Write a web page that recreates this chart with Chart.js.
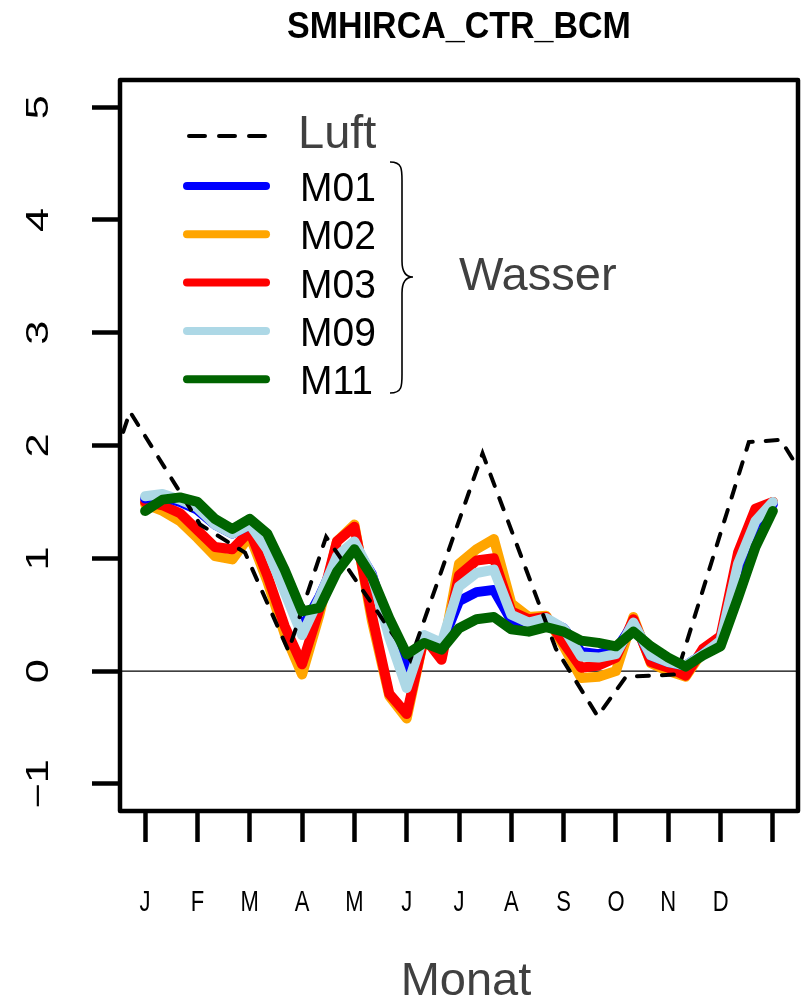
<!DOCTYPE html>
<html>
<head>
<meta charset="utf-8">
<script src="https://cdn.jsdelivr.net/npm/chart.js@4.4.1/dist/chart.umd.min.js"></script>
<style>
  html, body { margin: 0; padding: 0; background: #fff; }
  #wrap { width: 807px; height: 1000px; }
</style>
</head>
<body>
<div id="wrap"><canvas id="c" width="807" height="1000"></canvas></div>
<script>
// Monthly axis: 13 tick positions, 12 labelled months
const monthTicks = [1, 2, 3, 4, 5, 6, 7, 8, 9, 10, 11, 12, 13];
const monthLabels = ['J', 'F', 'M', 'A', 'M', 'J', 'J', 'A', 'S', 'O', 'N', 'D'];
const yTicks = [-1, 0, 1, 2, 3, 4, 5];

// Water series are given per decade (10-day step): t = 1 + k/3, k = 0..36
const dekadeT = Array.from({ length: 37 }, (_, k) => 1 + k / 3);

const m01 = [1.53, 1.55, 1.50, 1.43, 1.30, 1.22, 1.30, 1.10, 0.72, 0.38, 0.66, 1.00, 1.12,
             0.86, 0.35, 0.00, 0.30, 0.24, 0.62, 0.70, 0.72, 0.45, 0.42, 0.45, 0.38, 0.17,
             0.15, 0.19, 0.42, 0.14, 0.08, 0.05, 0.15, 0.26, 0.90, 1.30, 1.48];
const m02 = [1.48, 1.42, 1.33, 1.18, 1.02, 0.99, 1.20, 0.80, 0.33, -0.03, 0.50, 1.15, 1.30,
             0.45, -0.22, -0.42, 0.30, 0.12, 0.95, 1.08, 1.17, 0.60, 0.48, 0.49, 0.22, -0.06,
             -0.05, 0.00, 0.48, 0.07, 0.00, -0.05, 0.18, 0.28, 0.95, 1.38, 1.50];
const m03 = [1.50, 1.47, 1.40, 1.25, 1.10, 1.08, 1.24, 0.85, 0.40, 0.06, 0.55, 1.15, 1.28,
             0.50, -0.20, -0.38, 0.30, 0.10, 0.85, 0.98, 1.00, 0.53, 0.46, 0.48, 0.25, 0.03,
             0.05, 0.12, 0.46, 0.08, 0.03, -0.04, 0.20, 0.31, 1.05, 1.44, 1.50];
const m09 = [1.55, 1.57, 1.52, 1.45, 1.30, 1.22, 1.30, 1.08, 0.70, 0.32, 0.65, 1.02, 1.15,
             0.85, 0.30, -0.15, 0.32, 0.25, 0.75, 0.87, 0.90, 0.50, 0.43, 0.47, 0.38, 0.13,
             0.12, 0.15, 0.43, 0.14, 0.08, 0.05, 0.15, 0.27, 0.95, 1.33, 1.50];
const m11 = [1.42, 1.52, 1.54, 1.50, 1.35, 1.26, 1.35, 1.22, 0.90, 0.53, 0.56, 0.88, 1.08,
             0.84, 0.47, 0.15, 0.25, 0.19, 0.38, 0.46, 0.48, 0.37, 0.35, 0.39, 0.35, 0.27,
             0.25, 0.22, 0.35, 0.22, 0.12, 0.04, 0.14, 0.22, 0.65, 1.10, 1.42];

// Air temperature curve with its own time positions (runs past both plot edges)
const luftT = [0.43, 0.71, 2.05, 2.91, 3.74, 4.46, 6.07, 7.45, 8.85, 9.65, 10.19, 11.16, 12.54, 13.15, 13.82];
const luftV = [1.91, 2.30, 1.30, 1.05, 0.18, 1.19, 0.10, 1.93, 0.20, -0.40, -0.05, -0.03, 2.03, 2.05, 1.55];

const zeroT = [0.52, 13.48];
const zeroV = [0, 0];

const seriesNames = ['M01', 'M02', 'M03', 'M09', 'M11'];
const seriesColors = ['#0000ff', '#ffa500', '#ff0000', '#add8e6', '#006400'];
const seriesValues = [m01, m02, m03, m09, m11];
// stacking: M11 on top, then the dashed air line, M09, M01, M03, M02
const seriesOrder = [3, 5, 4, 2, 0];

const FONT = '"Liberation Sans", Arial, Helvetica, sans-serif';
const GREY = '#404040';

function pts(ts, vs) { return ts.map((t, i) => ({ x: t, y: vs[i] })); }

const datasets = seriesNames.map((name, i) => ({
  label: name,
  data: pts(dekadeT, seriesValues[i]),
  borderColor: seriesColors[i],
  borderWidth: 10,
  pointRadius: 0,
  tension: 0,
  borderCapStyle: 'round',
  borderJoinStyle: 'round',
  order: seriesOrder[i],
  clip: 0
}));
datasets.push({
  label: 'Luft',
  data: pts(luftT, luftV),
  borderColor: '#000',
  borderWidth: 4,
  borderDash: [12, 13],
  borderCapStyle: 'round',
  pointRadius: 0,
  tension: 0,
  order: 1,
  clip: 0
});
datasets.push({
  label: 'zero',
  data: pts(zeroT, zeroV),
  borderColor: '#000',
  borderWidth: 1.3,
  pointRadius: 0,
  order: 10,
  clip: 0
});

// text helper: draws with an optional rotation and stretch
function text(ctx, s, x, y, opt) {
  ctx.save();
  ctx.translate(x, y);
  if (opt.rot) ctx.rotate(opt.rot);
  ctx.scale(opt.sx || 1, opt.sy || 1);
  ctx.font = opt.font;
  ctx.fillStyle = opt.color || '#000';
  ctx.textAlign = opt.align || 'center';
  ctx.textBaseline = opt.base || 'alphabetic';
  ctx.fillText(s, 0, 0);
  ctx.restore();
}

const decor = {
  id: 'decor',
  beforeDraw(chart) {
    const { ctx } = chart;
    ctx.save();
    ctx.fillStyle = '#fff';
    ctx.fillRect(0, 0, chart.width, chart.height);
    ctx.restore();
  },
  afterDraw(chart) {
    const { ctx, chartArea: a, scales } = chart;
    const xs = scales.x, ys = scales.y;

    // plot frame
    ctx.save();
    ctx.strokeStyle = '#000';
    ctx.lineWidth = 4.5;
    ctx.lineJoin = 'round';
    ctx.strokeRect(a.left, a.top, a.right - a.left, a.bottom - a.top);
    ctx.restore();

    // title
    text(ctx, 'SMHIRCA_CTR_BCM', 459, 38, { font: 'bold 34px ' + FONT, sy: 1.08 });

    // month letters
    monthLabels.forEach((m, i) => {
      text(ctx, m, xs.getPixelForValue(monthTicks[i]), 911, { font: '22px ' + FONT, sy: 1.35 });
    });

    // y tick labels, rotated as in base graphics
    yTicks.forEach(v => {
      text(ctx, String(v).replace('-', '\u2212'), 48, ys.getPixelForValue(v), {
        font: '31px ' + FONT, rot: -Math.PI / 2, sy: 1.0, sx: 1.4 });
    });

    // axis title
    text(ctx, 'Monat', 466, 995, { font: '47px ' + FONT, color: GREY });

    // legend
    const lx0 = 187, lx1 = 266;
    ctx.save();
    ctx.strokeStyle = '#000';
    ctx.lineWidth = 4;
    ctx.lineCap = 'round';
    ctx.setLineDash([16, 14]);
    ctx.beginPath(); ctx.moveTo(lx0 + 2, 136); ctx.lineTo(lx1, 136); ctx.stroke();
    ctx.restore();
    text(ctx, 'Luft', 298, 148, { font: '47px ' + FONT, color: GREY, align: 'left' });

    seriesNames.forEach((name, i) => {
      const y = 186 + i * 48.3;
      ctx.save();
      ctx.strokeStyle = seriesColors[i];
      ctx.lineWidth = 8;
      ctx.lineCap = 'round';
      ctx.beginPath(); ctx.moveTo(lx0, y); ctx.lineTo(lx1, y); ctx.stroke();
      ctx.restore();
      text(ctx, name, 300, y + 15, { font: '39px ' + FONT, align: 'left', sy: 1.05 });
    });

    // curly brace grouping the water series
    ctx.save();
    ctx.strokeStyle = '#000';
    ctx.lineWidth = 1.6;
    ctx.beginPath();
    const bx = 390, top = 162, mid = 277, bot = 393, cx = 402, tip = 413;
    ctx.moveTo(bx, top);
    ctx.bezierCurveTo(cx + 1, top, cx, top + 8, cx, top + 22);
    ctx.lineTo(cx, mid - 16);
    ctx.bezierCurveTo(cx, mid - 4, cx + 4, mid, tip, mid);
    ctx.bezierCurveTo(cx + 4, mid, cx, mid + 4, cx, mid + 16);
    ctx.lineTo(cx, bot - 22);
    ctx.bezierCurveTo(cx, bot - 8, cx + 1, bot, bx, bot);
    ctx.stroke();
    ctx.restore();
    text(ctx, 'Wasser', 459, 290, { font: '47px ' + FONT, color: GREY, align: 'left' });
  }
};

new Chart(document.getElementById('c'), {
  type: 'line',
  data: { datasets },
  options: {
    responsive: false,
    animation: false,
    devicePixelRatio: 1,
    layout: { padding: { left: 0, top: 80, right: 9, bottom: 0 } },
    plugins: { legend: { display: false }, tooltip: { enabled: false }, title: { display: false } },
    scales: {
      x: {
        type: 'linear', min: 0.52, max: 13.48,
        afterBuildTicks: s => { s.ticks = monthTicks.map(v => ({ value: v })); },
        ticks: { display: false },
        grid: { drawOnChartArea: false, drawTicks: true, tickLength: 31, tickWidth: 4.5, tickColor: '#000' },
        border: { display: false },
        afterFit: s => { s.height = 189; }
      },
      y: {
        type: 'linear', min: -1.24, max: 5.24,
        afterBuildTicks: s => { s.ticks = yTicks.map(v => ({ value: v })); },
        ticks: { display: false },
        grid: { drawOnChartArea: false, drawTicks: true, tickLength: 28, tickWidth: 4.5, tickColor: '#000' },
        border: { display: false },
        afterFit: s => { s.width = 120; }
      }
    }
  },
  plugins: [decor]
});
</script>
</body>
</html>
